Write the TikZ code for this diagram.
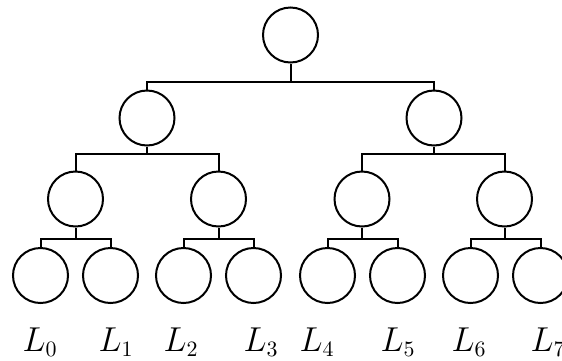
\documentclass[tikz,border=0pt]{standalone}
\tikzset{vtx/.style={circle,draw,line width=1pt,minimum size=27.5pt,inner sep=0pt},
  lab/.style={anchor=base,font=\fontsize{16}{19}\selectfont}}
\begin{document}
\begin{tikzpicture}[x=0.5pt,y=-0.5pt,line width=1pt]
\clip (0,0) rectangle (562,360);
\node[vtx] (r) at (290.5,35) {};
\node[vtx] (a) at (147,118) {};
\node[vtx] (b) at (434,118) {};
\node[vtx] (aa) at (75.5,199) {};
\node[vtx] (ab) at (218.5,199) {};
\node[vtx] (ba) at (362,199) {};
\node[vtx] (bb) at (504.5,199) {};
\foreach \x [count=\i from 0] in {40.5,110.5,183.5,253.5,327.5,397.5,470.5,540.5}
  \node[vtx] (l\i) at (\x,275.5) {};
\foreach \p/\c/\d/\y in {r/a/b/82,a/aa/ab/154,b/ba/bb/154,aa/l0/l1/239,ab/l2/l3/239,ba/l4/l5/239,bb/l6/l7/239}
  \draw (\p.south) -- (\p.south |- 0,\y) (\c.north) |- (\p.south |- 0,\y) -| (\d.north);
\foreach \x [count=\i from 0] in {40,116,181,261,317,398,469,548}
  \node[lab] (t\i) at (\x,351) {$L_\i$};
\end{tikzpicture}
\end{document}
